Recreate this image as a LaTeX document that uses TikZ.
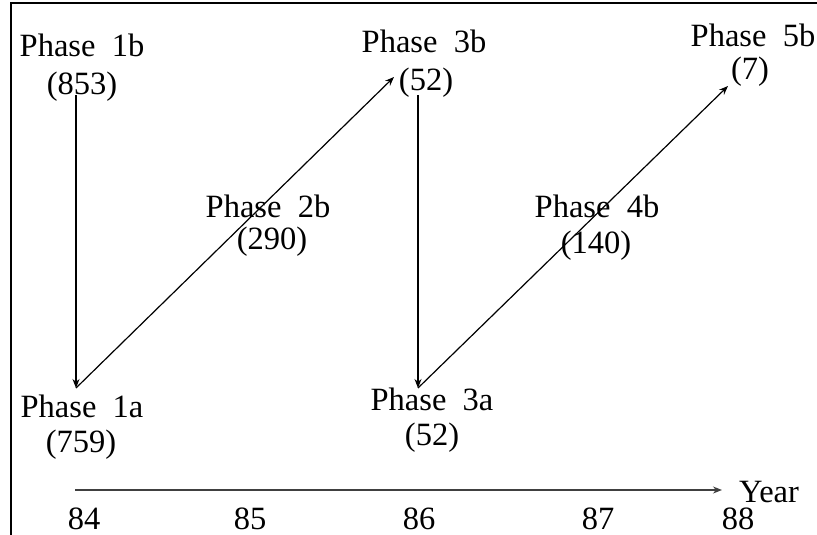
\documentclass[tikz,border=0pt]{standalone}
\usepackage{fontspec}
\setmainfont{Liberation Serif}
\usetikzlibrary{arrows.meta}
\begin{document}
\begin{tikzpicture}[x=1pt,y=-1pt,
  lbl/.style={inner sep=0pt, anchor=base, font=\fontsize{32.5}{38}\selectfont},
  flow/.style={-{Stealth[length=9pt,width=7pt]}, line width=1.2pt},
  axisline/.style={-{Stealth[length=9pt,width=7pt]}, line width=1.4pt, draw=black!75},
  frame/.style={line width=2.8pt}]
\useasboundingbox (0,0) rectangle (817,535);
% frame
\coordinate (fbl) at (11,535);
\coordinate (ftl) at (11,3);
\coordinate (ftr) at (817,3);
\draw[frame] (fbl) -- (ftl) -- (ftr);
% labels
\node[lbl] (t1b) at (82,57) {Phase~~1b};
\node[lbl] (v1b) at (82,95) {(853)};
\node[lbl] (t1a) at (82,417) {Phase~~1a};
\node[lbl] (v1a) at (81,452) {(759)};
\node[lbl] (t2b) at (268,217) {Phase~~2b};
\node[lbl] (v2b) at (272,249) {(290)};
\node[lbl] (t3b) at (424,53) {Phase~~3b};
\node[lbl] (v3b) at (426,91) {(52)};
\node[lbl] (t3a) at (432,410) {Phase~~3a};
\node[lbl] (v3a) at (432,445) {(52)};
\node[lbl] (t4b) at (597,217) {Phase~~4b};
\node[lbl] (v4b) at (596,253) {(140)};
\node[lbl] (t5b) at (753,47) {Phase~~5b};
\node[lbl] (v5b) at (750,80) {(7)};
% connector ends
\coordinate (s1b) at (76,95);
\coordinate (e1a) at (76,388);
\coordinate (a3b) at (394,77);
\coordinate (s3b) at (418,95);
\coordinate (e3a) at (418,388);
\coordinate (a5b) at (728,86);
\draw[flow] (s1b) -- (e1a);
\draw[flow] (e1a) -- (a3b);
\draw[flow] (s3b) -- (e3a);
\draw[flow] (e3a) -- (a5b);
% axis
\coordinate (ax0) at (75,490);
\coordinate (ax1) at (722,490);
\draw[axisline] (ax0) -- (ax1);
\node[lbl] (year) at (769,502) {Year};
\node[lbl] (y84) at (84,529) {84};
\node[lbl] (y85) at (250,529) {85};
\node[lbl] (y86) at (419,529) {86};
\node[lbl] (y87) at (598,529) {87};
\node[lbl] (y88) at (738,529) {88};
\end{tikzpicture}
\end{document}
